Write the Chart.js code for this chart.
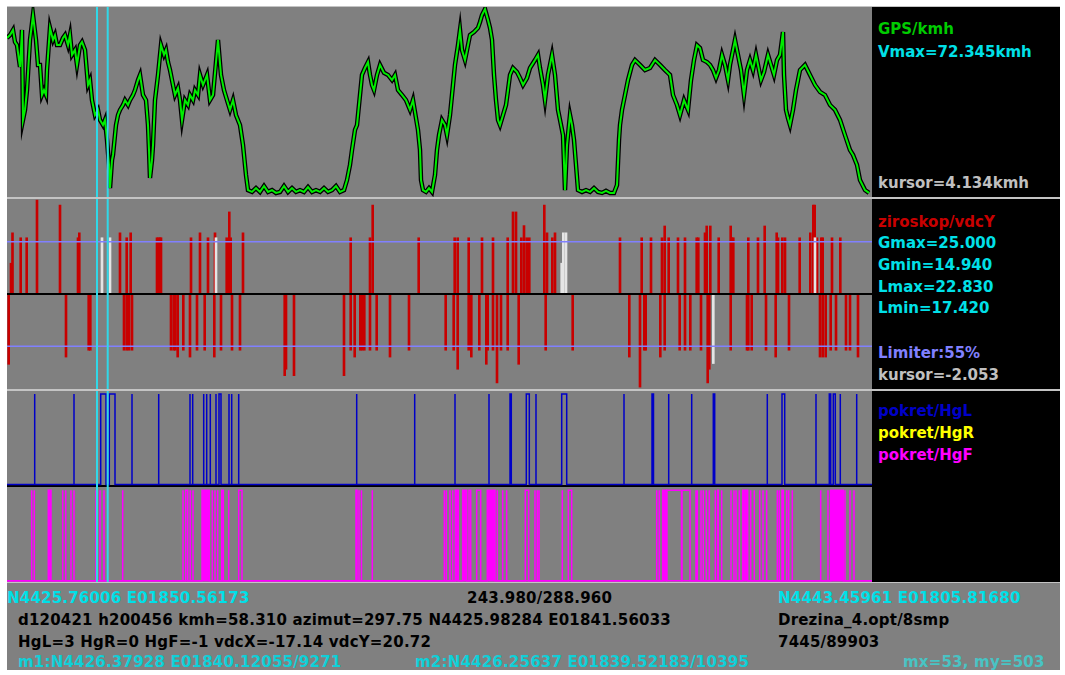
<!DOCTYPE html>
<html>
<head>
<meta charset="utf-8">
<script src="https://cdn.jsdelivr.net/npm/chart.js@4.4.1/dist/chart.umd.min.js"></script>
<style>
body { margin:0; background:#fff; width:1065px; height:675px; overflow:hidden;
       font-family:"DejaVu Sans", sans-serif; font-weight:bold; font-size:15px; }
#frame { position:absolute; left:7px; top:6px; width:1053px; height:664px; background:#808080; }
#side { position:absolute; left:872px; top:7px; width:188px; height:575px; background:#000; }
canvas { position:absolute; left:7px; }
.sep { position:absolute; left:7px; width:1053px; background:#c4c4c4; }
.t { position:absolute; white-space:pre; line-height:18px; }
.b { letter-spacing:0.2px; }
</style>
</head>
<body>
<div id="frame"></div>
<div id="side"></div>
<canvas id="gps" width="865" height="190" style="top:7px"></canvas>
<canvas id="gyro" width="865" height="190" style="top:199px"></canvas>
<canvas id="move" width="865" height="191" style="top:391px"></canvas>
<div class="sep" style="top:6px;height:1px"></div>
<div class="sep" style="top:197px;height:2px"></div>
<div class="sep" style="top:389px;height:2px"></div>
<div class="sep" style="top:582px;height:1px"></div>

<div class="t" style="left:878px;top:20px;color:#00cc00">GPS/kmh</div>
<div class="t" style="left:878px;top:43px;color:#00e0e8">Vmax=72.345kmh</div>
<div class="t" style="left:878px;top:174px;color:#c0c0c0">kursor=4.134kmh</div>
<div class="t" style="left:878px;top:213px;color:#c80000">ziroskop/vdcY</div>
<div class="t" style="left:878px;top:234px;color:#00e0e8">Gmax=25.000</div>
<div class="t" style="left:878px;top:256px;color:#00e0e8">Gmin=14.940</div>
<div class="t" style="left:878px;top:278px;color:#00e0e8">Lmax=22.830</div>
<div class="t" style="left:878px;top:299px;color:#00e0e8">Lmin=17.420</div>
<div class="t" style="left:878px;top:344px;color:#8080ff">Limiter:55%</div>
<div class="t" style="left:878px;top:366px;color:#c0c0c0">kursor=-2.053</div>
<div class="t" style="left:878px;top:402px;color:#0000c8">pokret/HgL</div>
<div class="t" style="left:878px;top:424px;color:#ffff00">pokret/HgR</div>
<div class="t" style="left:878px;top:446px;color:#ff00ff">pokret/HgF</div>

<div class="t b" style="left:7px;top:589px;color:#00e0e8">N4425.76006 E01850.56173</div>
<div class="t b" style="left:467px;top:589px;color:#000">243.980/288.960</div>
<div class="t b" style="left:778px;top:589px;color:#00e0e8">N4443.45961 E01805.81680</div>
<div class="t b" style="left:18px;top:611px;color:#000">d120421 h200456 kmh=58.310 azimut=297.75 N4425.98284 E01841.56033</div>
<div class="t b" style="left:778px;top:611px;color:#000">Drezina_4.opt/8smp</div>
<div class="t b" style="left:18px;top:633px;color:#000">HgL=3 HgR=0 HgF=-1 vdcX=-17.14 vdcY=20.72</div>
<div class="t b" style="left:778px;top:633px;color:#000">7445/89903</div>
<div class="t b" style="left:18px;top:653px;color:#10d0d8">m1:N4426.37928 E01840.12055/9271</div>
<div class="t b" style="left:415px;top:653px;color:#10d0d8">m2:N4426.25637 E01839.52183/10395</div>
<div class="t b" style="left:903px;top:653px;color:#48c4c4">mx=53, my=503</div>

<script>
// x = sample position along the track (0..865)
const sampleMax = 865;
const cursors = [90, 100.7];

// GPS speed, km/h
const gpsSpeed = [
  [0,61.1],[3,62.2],[6,64.2],[8,59.5],[10,58.3],[12,52.5],[13,49.8],[15,64.2],[16,29.2],[18,33.1],
  [20,40.8],[23,60.3],[26,70.0],[29,60.3],[31,50.6],[33,50.6],[35,38.9],[37,40.8],[39,38.9],[40,48.6],
  [43,65.0],[46,60.3],[48,62.2],[50,58.3],[53,58.3],[56,61.1],[58,62.2],[61,58.3],[63,62.2],[65,54.5],
  [68,56.4],[70,50.6],[73,58.3],[75,59.5],[78,56.4],[81,42.8],[83,44.7],[85,36.9],[88,31.1],[91,33.1],
  [93,29.2],[96,27.2],[98,29.2],[100,21.4],[102,11.7],[103,2.7],[105,13.6],[106,15.6],[109,27.2],[111,31.1],
  [113,33.1],[116,35.0],[118,36.9],[121,35.0],[123,36.9],[126,38.9],[128,40.8],[131,44.7],[133,46.7],[136,38.9],
  [139,36.9],[141,27.2],[142,17.5],[143,6.6],[145,13.6],[146,19.4],[148,36.9],[151,46.7],[154,58.3],[157,54.5],
  [159,56.4],[161,51.7],[163,48.6],[165,44.7],[168,38.9],[171,41.6],[173,36.9],[175,29.2],[178,36.9],[181,35.0],
  [183,38.9],[186,36.9],[188,40.8],[191,38.9],[193,46.7],[196,42.8],[198,44.7],[200,46.7],[203,36.9],[206,38.9],
  [209,51.7],[211,60.3],[214,46.7],[217,40.8],[220,36.9],[223,33.1],[226,36.9],[229,31.1],[233,27.2],[236,19.4],
  [239,7.8],[241,1.9],[245,1.2],[249,2.7],[253,1.2],[257,3.5],[261,1.2],[265,1.9],[269,0.8],[273,1.2],
  [277,3.5],[281,1.2],[285,2.7],[289,1.2],[293,1.9],[297,1.2],[301,3.1],[305,1.2],[309,1.9],[313,1.2],
  [317,2.7],[321,1.2],[325,1.9],[329,3.5],[333,1.2],[337,1.9],[340,5.8],[343,11.7],[345,17.5],[348,25.3],
  [350,27.2],[353,38.9],[355,46.7],[358,49.4],[361,51.7],[363,46.7],[365,42.8],[367,40.8],[370,46.7],[373,50.6],
  [377,47.5],[381,46.7],[385,44.7],[388,46.7],[391,40.8],[395,38.9],[399,36.9],[403,33.1],[406,36.9],[409,29.9],
  [411,25.3],[413,17.5],[414,5.8],[416,1.9],[419,1.2],[422,2.7],[425,1.2],[428,7.8],[430,17.5],[432,23.3],
  [435,29.2],[438,27.2],[440,23.3],[443,31.1],[445,38.9],[448,50.6],[451,58.3],[453,64.2],[455,56.4],[458,52.5],
  [461,58.3],[463,62.2],[467,63.4],[471,65.0],[473,67.3],[475,70.0],[478,72.3],[481,68.1],[483,65.0],[485,60.3],
  [487,46.7],[489,36.9],[491,29.2],[493,27.2],[496,31.1],[499,35.0],[501,40.8],[503,46.7],[506,49.4],[510,47.8],
  [513,45.5],[516,42.8],[520,45.5],[523,49.4],[528,52.5],[531,54.5],[533,49.4],[536,42.8],[538,36.9],[541,46.7],
  [545,54.5],[548,46.7],[551,33.1],[553,29.2],[556,23.3],[558,1.9],[560,19.4],[563,31.1],[565,27.2],[567,21.4],
  [569,11.7],[571,1.9],[575,1.2],[579,1.9],[583,1.2],[587,2.7],[591,1.2],[595,0.8],[599,1.6],[603,0.8],
  [607,0.8],[610,3.9],[612,21.4],[613,27.2],[615,33.1],[618,38.9],[621,44.7],[625,50.6],[628,52.5],[633,50.6],
  [638,48.6],[643,49.4],[648,52.5],[653,50.6],[658,48.6],[663,46.7],[666,38.9],[670,35.0],[673,31.1],[677,36.9],
  [681,33.1],[684,44.7],[687,52.5],[690,58.3],[693,57.2],[696,52.5],[700,51.7],[703,50.6],[706,48.6],[709,45.5],
  [712,48.6],[715,54.5],[718,50.6],[721,44.7],[723,50.6],[726,56.4],[728,60.3],[731,54.5],[734,48.6],[737,38.9],
  [740,48.6],[743,52.5],[746,48.6],[749,54.5],[751,50.6],[754,44.7],[757,47.8],[761,54.5],[764,50.6],[767,46.7],
  [770,52.5],[773,54.5],[776,63.4],[777,46.7],[779,33.1],[781,29.9],[783,27.2],[786,33.1],[789,40.8],[793,48.6],
  [798,50.6],[803,46.7],[808,42.8],[813,40.1],[818,38.9],[823,35.0],[828,33.1],[833,29.2],[838,23.3],[843,17.5],
  [846,15.6],[850,11.7],[853,5.8],[858,1.9],[862,0.8]
];

// gyro vdcY peaks (red) and vdcX peaks (white)
const gMax = 25;
const limiter = 0.55;
const vdcY = [
  [4,8.1],[5.5,16.1],[13.7,14.8],[19.7,14.8],[30,24.7],[53,23.4],[71,14.8],[72.3,16.1],[113,16.1],[119.7,14.8],
  [123.7,16.1],[150,14.8],[151.5,14.8],[153,14.8],[154,14.8],[184,14.8],[193,16.1],[201,14.8],[208,16.1],[219.7,14.8],
  [222.3,21.6],[223.7,14.8],[236,16.1],[343.7,14.8],[363,14.8],[365.7,23.4],[411.7,14.8],[447.7,14.8],[450.7,14.8],[461.7,14.8],
  [475,14.8],[486,14.8],[500.7,14.8],[506,21.6],[509,21.6],[514.3,14.8],[517,18.0],[519.7,14.8],[522.3,14.8],[537.3,23.4],
  [540,16.1],[545.3,14.8],[548,16.1],[613,14.8],[634.7,14.8],[644,14.8],[655,14.8],[657.7,17.9],[661.7,14.8],[671,14.8],
  [678,14.8],[689.7,14.8],[691.3,14.8],[698,16.1],[699.7,17.9],[703.3,17.9],[711.7,14.8],[723.7,17.9],[725,14.8],[726.3,14.8],
  [741.3,14.8],[751,14.8],[757.7,17.9],[769.7,16.1],[771,14.8],[775.3,14.8],[778,14.8],[792.7,14.8],[803.3,16.1],[806.3,23.4],
  [807.7,23.4],[810,14.8],[814.3,14.8],[815.7,14.8],[825,14.8],[833.3,14.8],
  [1.7,-18.5],[59,-16.6],[81.7,-14.8],[83.3,-14.8],[117,-14.8],[119.7,-14.8],[122,-14.8],[125,-14.8],[164,-14.8],[166.7,-14.8],
  [168.3,-14.8],[170.7,-16.6],[176.3,-14.8],[183,-16.6],[190,-14.8],[197.7,-14.8],[207.3,-16.6],[214,-14.8],[225,-14.8],[233,-14.8],
  [277.7,-21.5],[279,-19.8],[287,-21.5],[337,-21.5],[343.7,-14.8],[347.7,-16.6],[353.3,-14.8],[355,-14.8],[357.3,-14.8],[363,-14.8],
  [369.7,-14.8],[383,-16.6],[402,-14.8],[438.7,-14.8],[446.7,-14.8],[450.7,-19.8],[461.7,-14.8],[464.3,-16.6],[472.3,-14.8],[479.3,-18.5],
  [480.7,-14.8],[486,-14.8],[490,-23.4],[494,-14.8],[500.7,-14.8],[511.7,-18.5],[538.7,-14.8],[565.7,-14.8],[622.3,-16.6],[633,-24.5],
  [637.3,-14.8],[638.7,-14.8],[653.3,-16.6],[657.7,-14.8],[672.7,-14.8],[678,-14.8],[683.3,-14.8],[694,-14.8],[700.7,-23.4],[702.3,-19.8],
  [723.7,-14.8],[740,-14.8],[741.3,-14.8],[744.7,-14.8],[759,-14.8],[768.7,-16.6],[782,-14.8],[813,-16.6],[815.7,-16.6],[818.7,-16.6],
  [823.7,-14.8],[829,-14.8],[839,-14.8],[843,-14.8],[851,-16.6]
];
const vdcX = [[95,14.8],[103,14.8],[209,14.8],[554.7,8.1],[556.3,16.1],[559,16.1],[808,14.8],[706.3,-18.3]];

// movement sensors: [start, end] of each active pulse
const hgL = [
  [27.7,27.7],[67,67],[93.7,99],[102.3,108],[125,125],[151.7,151.7],[183,183],[185.7,185.7],[196.7,196.7],[199.7,199.7],
  [203.3,203.3],[209,209],[212,214],[222,222],[224.7,224.7],[231.7,231.7],[349.7,349.7],[407.7,407.7],[448,448],[482,482],
  [503,504.3],[519.3,522.3],[529,529],[554.7,559.7],[617,617],[645,646.5],[661.7,661.7],[684.7,684.7],[706.3,707.7],[760.3,760.3],
  [775,777.7],[809,809],[822.3,823.7],[826.3,828.3],[833.3,833.3],[849.7,849.7]
];
const hgF = [
  [24.7,24.7],[27.3,27.3],[55.7,55.7],[58.7,58.7],[64,64],[67,67],[89,89],[93,93],[97,97],[115.7,115.7],
  [176,176],[178.7,180.7],[183.3,183.3],[186,186],[205.3,205.3],[208,208],[210.7,210.7],[214.7,216.3],[221.7,221.7],[231.7,235],
  [349,350],[352,352],[354,354.7],[365.3,365.3],[437.3,437.3],[439.3,439.3],[443,443],[445.7,445.7],[462,463.7],[469.7,473.7],
  [490.3,490.3],[495.7,495.7],[499.7,499.7],[518.3,521.7],[528,528],[530.3,530.3],[532,532],[555.3,555.3],[561.3,564.7],[649.7,649.7],
  [652.3,652.3],[659.7,674.5],[675,683],[689,689],[690.3,690.3],[694,694],[696.3,696.3],[699.3,699.3],[702.3,702.3],[708.3,708.3],
  [710.7,711.3],[714.7,714.7],[724,724],[727,727],[729,729],[732.3,732.3],[743.7,743.7],[747.3,747.3],[752.7,752.7],[756,756],
  [759.7,759.7],[770,770.5],[772.3,772.3],[775,776.3],[779.7,779.7],[781.7,781.7],[785.3,785.3],[813.7,813.7],[821,821],[838,838],
  [843,843],[847,847]
];
const hgFBursts = [[41.3,44],[195,202.3],[448.3,451.3],[455.7,459.7],[480.3,488],[655.7,659.7],[735.7,740.7],[823.7,836.3]];

function pairs(list) {
  return list.map(p => ({ x: p[0], y: p[1] }));
}

function pulses(list, low, high) {
  const pts = [{ x: 0, y: low }];
  list.forEach(([s, e]) => {
    pts.push({ x: s, y: low }, { x: s, y: high }, { x: e, y: high }, { x: e, y: low });
  });
  pts.push({ x: sampleMax, y: low });
  return pts;
}

// horizontal reference levels per panel (kept out of chart options)
const levels = {
  gyro: {
    under: [],
    over: [
      { axis: 'y', value: gMax * limiter, color: '#8080ff', width: 1.5, shift: 0 },
      { axis: 'y', value: -gMax * limiter, color: '#8080ff', width: 1.5, shift: 0 },
      { axis: 'y', value: 0, color: '#000', width: 2, shift: 0 }
    ]
  },
  move: {
    under: [{ axis: 'y', value: 0, color: '#000', width: 2, shift: 1.5 }],
    over: []
  }
};

function drawLevels(chart, lines) {
  const { ctx, chartArea } = chart;
  lines.forEach(l => {
    const y = chart.scales[l.axis].getPixelForValue(l.value) + l.shift;
    ctx.save();
    ctx.strokeStyle = l.color;
    ctx.lineWidth = l.width;
    ctx.beginPath();
    ctx.moveTo(chartArea.left, y);
    ctx.lineTo(chartArea.right, y);
    ctx.stroke();
    ctx.restore();
  });
}

const panelLines = {
  id: 'panelLines',
  beforeDatasetsDraw(chart) {
    const lv = levels[chart.canvas.id];
    if (lv) drawLevels(chart, lv.under);
  },
  afterDatasetsDraw(chart) {
    const lv = levels[chart.canvas.id];
    if (lv) drawLevels(chart, lv.over);
    const { ctx, chartArea, scales } = chart;
    ctx.save();
    ctx.strokeStyle = '#30d8e8';
    ctx.lineWidth = 2;
    cursors.forEach(c => {
      const x = scales.x.getPixelForValue(c);
      ctx.beginPath();
      ctx.moveTo(x, chartArea.top);
      ctx.lineTo(x, chartArea.bottom);
      ctx.stroke();
    });
    ctx.restore();
  }
};

function makeChart(id, datasets, yScales) {
  const scales = { x: { type: 'linear', min: 0, max: sampleMax, display: false, offset: false } };
  Object.keys(yScales).forEach(k => {
    scales[k] = { type: 'linear', min: yScales[k][0], max: yScales[k][1], display: false };
  });
  return new Chart(document.getElementById(id), {
    type: 'line',
    data: { datasets },
    options: {
      responsive: false,
      animation: false,
      devicePixelRatio: 1,
      events: [],
      layout: { padding: 0 },
      scales,
      elements: { point: { radius: 0 }, line: { tension: 0 } },
      plugins: { legend: { display: false }, tooltip: { enabled: false } }
    },
    plugins: [panelLines]
  });
}

makeChart('gps', [
  { data: pairs(gpsSpeed), borderColor: '#00ee00', borderWidth: 2, order: 0 },
  { data: pairs(gpsSpeed), borderColor: '#000', borderWidth: 4.5, order: 1 }
], { y: [-0.78, 73.12] });

makeChart('gyro', [
  { type: 'bar', data: pairs(vdcX), backgroundColor: '#e4e4e4', barThickness: 2, grouped: false, order: 0 },
  { type: 'bar', data: pairs(vdcY), backgroundColor: '#c80000', barThickness: 2, grouped: false, order: 1 }
], { y: [-gMax, gMax] });

makeChart('move', [
  { data: pulses(hgL, 0, 1), borderColor: '#0000c8', borderWidth: 1.5, yAxisID: 'y', order: 0 },
  { data: pulses(hgF, -1, 0), borderColor: '#ff00ff', borderWidth: 1.5, yAxisID: 'y2', order: 1 },
  { data: pulses(hgFBursts, -1, 0), borderColor: '#ff00ff', borderWidth: 1.5, backgroundColor: '#ff00ff',
    fill: { value: -1 }, yAxisID: 'y2', order: 2 }
], { y: [-1.077, 1.033], y2: [-1.014, 1.098] });
</script>
</body>
</html>
